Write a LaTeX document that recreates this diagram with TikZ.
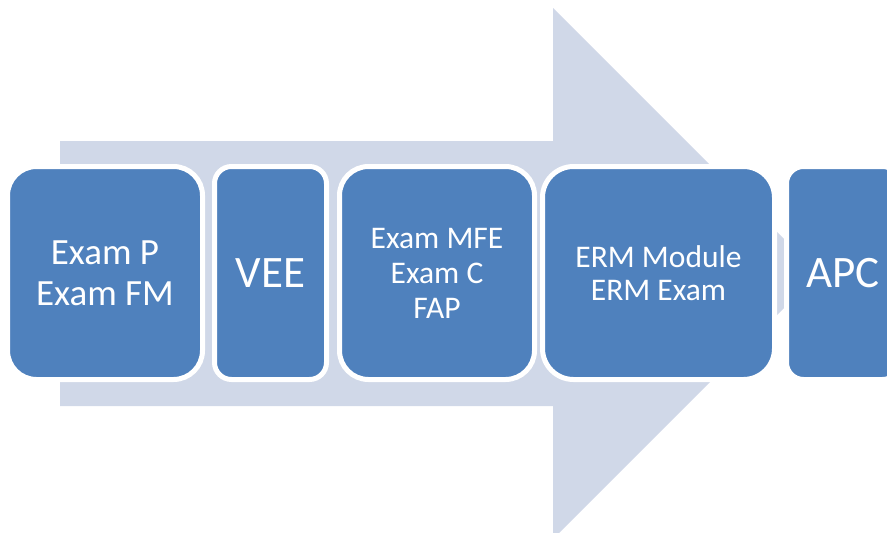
\documentclass[tikz,border=0pt]{standalone}
\usepackage{fontspec}
\setmainfont{Carlito}
\usepackage{xcolor}
\definecolor{stepblue}{RGB}{79,129,189}
\definecolor{arrowgray}{RGB}{208,216,232}

\begin{document}
\begin{tikzpicture}[x=1pt, y=-1pt,
    stage/.style={rectangle, draw=white, line width=5pt, fill=stepblue, text=white, minimum height=213pt, inner sep=0pt, align=center},
    bigarrow/.style={fill=arrowgray}
]
    \useasboundingbox (0,0) rectangle (887,533);
    \clip (0,0) rectangle (887,533);

    % background arrow
    \fill[bigarrow] (60,141) -- (553,141) -- (553,8) -- (818.5,273.5) -- (553,539) -- (553,406) -- (60,406) -- cycle;

    \node[stage, minimum width=195pt, rounded corners=29pt, font=\fontsize{37}{41}\selectfont] (examp) at (105,273) {Exam P\\Exam FM};
    \node[stage, minimum width=112pt, rounded corners=17pt, font=\fontsize{45}{54}\selectfont] (vee) at (270.5,273) {VEE};
    \node[stage, minimum width=195pt, rounded corners=29pt, font=\fontsize{31.5}{35}\selectfont] (mfe) at (437,273) {Exam MFE\\Exam C\\FAP};
    \node[stage, minimum width=232pt, rounded corners=31pt, font=\fontsize{31.5}{32.5}\selectfont] (erm) at (658.5,273) {ERM Module\\ERM Exam};
    \node[stage, minimum width=113pt, rounded corners=17pt, font=\fontsize{45}{54}\selectfont] (apc) at (843,273) {APC};
\end{tikzpicture}
\end{document}
